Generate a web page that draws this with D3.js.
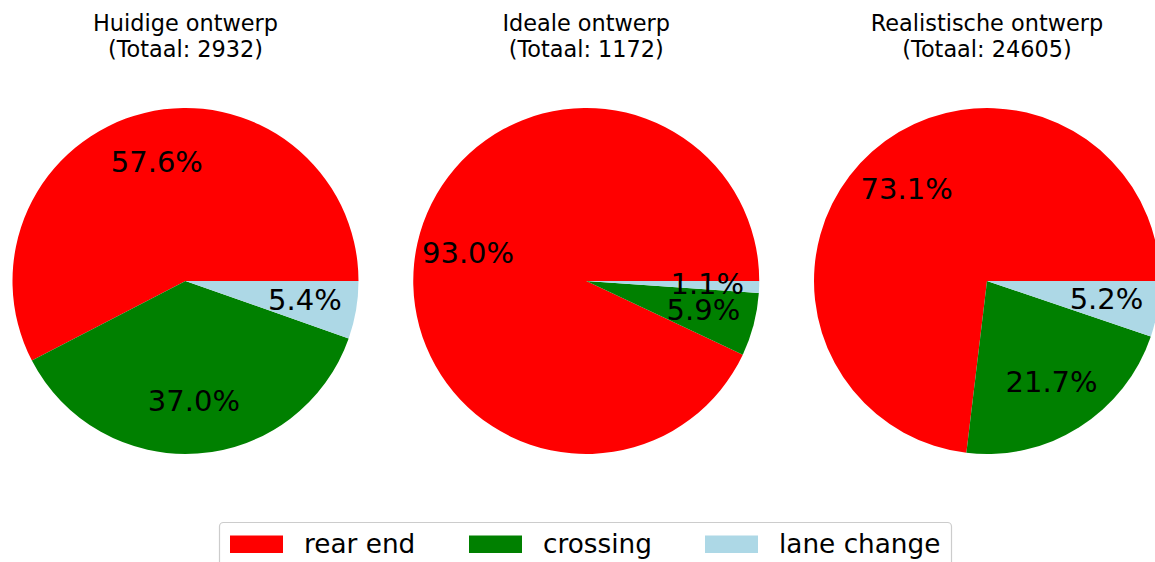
<!DOCTYPE html>
<html>
<head>
<meta charset="utf-8">
<script src="https://cdn.jsdelivr.net/npm/d3@7"></script>
<style>
  html, body { margin: 0; padding: 0; background: #fff; }
  svg { display: block; font-family: "DejaVu Sans", sans-serif; }
</style>
</head>
<body>
<svg id="chart" width="1155" height="562"></svg>
<script>
// ---- data ----
const designs = ["Huidige ontwerp", "Ideale ontwerp", "Realistische ontwerp"];
const categories = ["rear end", "crossing", "lane change"];
const rearEnd = [1689, 1090, 17986];
const crossing = [1085, 69, 5339];
const laneChange = [158, 13, 1280];
const colors = ["#ff0000", "#008000", "#add8e6"];

// ---- layout ----
const W = 1155, H = 562;
const svg = d3.select("#chart");
const radius = 173;
const cy = 281;
const xScale = d3.scalePoint().domain(designs).range([185.5, 987]);
const color = d3.scaleOrdinal().domain(categories).range(colors);

const pie = d3.pie()
  .sort(null)
  .value(d => d.value)
  .startAngle(Math.PI / 2)
  .endAngle(Math.PI / 2 - 2 * Math.PI);

const arc = d3.arc().innerRadius(0).outerRadius(radius);
const labelArc = d3.arc().innerRadius(radius * 0.7).outerRadius(radius * 0.7);
const fmt = d3.format(".1f");

designs.forEach((name, i) => {
  const vals = [rearEnd[i], crossing[i], laneChange[i]];
  const total = d3.sum(vals);
  const data = categories.map((c, j) => ({ cat: c, value: vals[j] }));
  const arcs = pie(data);
  const g = svg.append("g").attr("transform", `translate(${xScale(name)},${cy})`);

  g.selectAll("path.slice")
    .data(arcs)
    .join("path")
    .attr("class", "slice")
    .attr("d", arc)
    .attr("fill", d => color(d.data.cat));

  g.selectAll("text.pct")
    .data(arcs)
    .join("text")
    .attr("class", "pct")
    .attr("transform", d => `translate(${labelArc.centroid(d)})`)
    .attr("text-anchor", "middle")
    .attr("dy", "0.3em")
    .attr("font-size", 29)
    .attr("fill", "#000")
    .text(d => fmt(d.data.value / total * 100) + "%");

  const t = svg.append("text")
    .attr("x", xScale(name))
    .attr("text-anchor", "middle")
    .attr("font-size", 22.4)
    .attr("fill", "#000");
  t.append("tspan").attr("x", xScale(name)).attr("y", 31).text(name);
  t.append("tspan").attr("x", xScale(name)).attr("y", 57).text(`(Totaal: ${total})`);
});

// ---- legend ----
const lg = svg.append("g");
lg.append("rect")
  .attr("x", 219.5).attr("y", 522.5)
  .attr("width", 732).attr("height", 60)
  .attr("rx", 4).attr("ry", 4)
  .attr("fill", "#fff")
  .attr("stroke", "#cccccc")
  .attr("stroke-width", 1.2);

const legendX = d3.scaleOrdinal().domain(categories).range([230, 469, 705]);
const items = lg.selectAll("g.item")
  .data(categories)
  .join("g")
  .attr("class", "item")
  .attr("transform", d => `translate(${legendX(d)},0)`);
items.append("rect")
  .attr("x", 0).attr("y", 535.5)
  .attr("width", 53).attr("height", 17.5)
  .attr("fill", d => color(d));
items.append("text")
  .attr("x", 74).attr("y", 553)
  .attr("font-size", 26.3)
  .attr("fill", "#000")
  .text(d => d);
</script>
</body>
</html>
